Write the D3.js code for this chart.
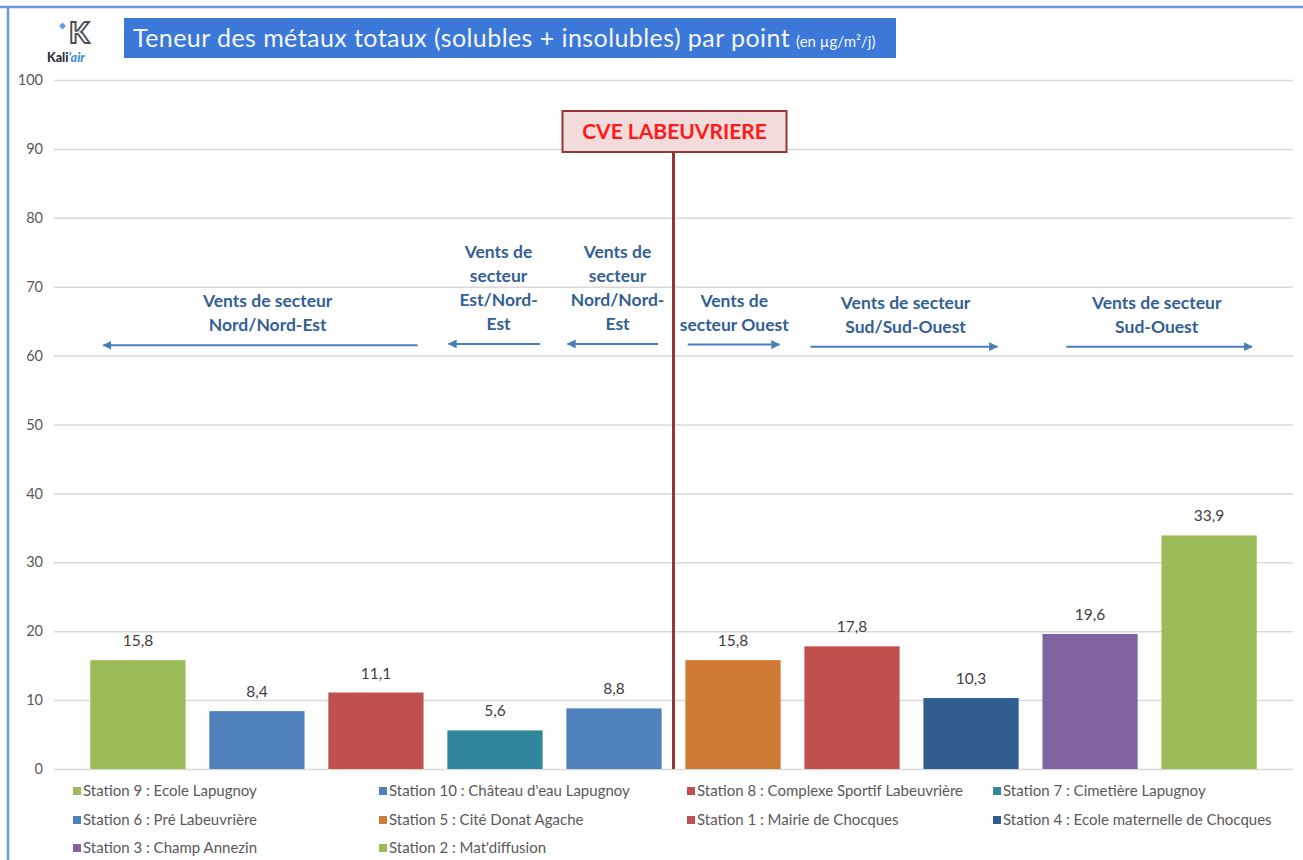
<!DOCTYPE html>
<html>
<head>
<meta charset="utf-8">
<script src="https://cdn.jsdelivr.net/npm/d3@7"></script>
<style>
  html, body { margin: 0; padding: 0; background: #fff; }
  svg { display: block; font-family: Lato, "Open Sans", sans-serif; }
</style>
</head>
<body>
<svg id="chart" width="1303" height="860"></svg>
<script>
// Stations, in plotting order (north-east side first, then south-west side)
const stations = [
  "Station 9 : Ecole Lapugnoy",
  "Station 10 : Château d'eau Lapugnoy",
  "Station 8 : Complexe Sportif Labeuvrière",
  "Station 7 : Cimetière Lapugnoy",
  "Station 6 : Pré Labeuvrière",
  "Station 5 : Cité Donat Agache",
  "Station 1 : Mairie de Chocques",
  "Station 4 : Ecole maternelle de Chocques",
  "Station 3 : Champ Annezin",
  "Station 2 : Mat'diffusion"
];
// Total metal content (soluble + insoluble), µg/m²/day
const values = [15.8, 8.4, 11.1, 5.6, 8.8, 15.8, 17.8, 10.3, 19.6, 33.9];
const colors = ["#9bbb59", "#4f81bd", "#c0504d", "#31859c", "#4f81bd",
                "#cf7a35", "#c0504d", "#2f5e8f", "#8064a2", "#9bbb59"];
const yTicks = [0, 10, 20, 30, 40, 50, 60, 70, 80, 90, 100];

// Wind-sector annotations: text lines, centre (in category units), arrow span
const windLabels = [
  ["Vents de secteur", "Nord/Nord-Est"],
  ["Vents de", "secteur", "Est/Nord-", "Est"],
  ["Vents de", "secteur", "Nord/Nord-", "Est"],
  ["Vents de", "secteur Ouest"],
  ["Vents de secteur", "Sud/Sud-Ouest"],
  ["Vents de secteur", "Sud-Ouest"]
];
const windCentre = [1.09, 3.03, 4.03, 5.01, 6.45, 8.56];
const windArrowFrom = [2.35, 3.38, 4.37, 4.62, 5.65, 7.80];
const windArrowTo = [-0.29, 2.61, 3.61, 5.39, 7.22, 9.36];
const windArrowLevel = [61.5, 61.7, 61.7, 61.6, 61.3, 61.3];

const svg = d3.select("#chart");
const W = 1303, H = 860;

// Frame: light blue rule along top and left
svg.append("rect").attr("width", W).attr("height", H).attr("fill", "#fff");
svg.append("line").attr("x1", 0).attr("x2", W).attr("y1", 7).attr("y2", 7)
  .attr("stroke", "#6a97e0").attr("stroke-width", 2.5);
svg.append("line").attr("x1", 8).attr("x2", 8).attr("y1", 6).attr("y2", H)
  .attr("stroke", "#6a97e0").attr("stroke-width", 2.5);

const plotL = 54, plotR = 1293, plotT = 80, plotB = 769;

const x = d3.scaleBand().domain(stations).range([plotL, plotR])
  .paddingInner(0.2).paddingOuter(0.305);
const y = d3.scaleLinear().domain([0, 100]).range([plotB, plotT]);
const step = x.step();
const catX = f => x(stations[0]) + x.bandwidth() / 2 + f * step;

// Y axis with horizontal gridlines
const yAxis = d3.axisLeft(y).tickValues(yTicks).tickSize(-(plotR - plotL)).tickPadding(11);
const gy = svg.append("g").attr("transform", `translate(${plotL},0)`).call(yAxis);
gy.select(".domain").remove();
gy.selectAll(".tick line").attr("stroke", "#d9d9d9").attr("stroke-width", 1.5);
gy.selectAll(".tick text").attr("fill", "#595959").attr("font-size", 14.5)
  .attr("font-family", "Lato, sans-serif");

// Bars
svg.append("g").selectAll("rect").data(stations).join("rect")
  .attr("x", d => x(d))
  .attr("y", (d, i) => y(values[i]))
  .attr("width", x.bandwidth())
  .attr("height", (d, i) => y(0) - y(values[i]))
  .attr("fill", (d, i) => colors[i]);

// Value labels (French decimal comma)
const fmt = v => d3.format(".1f")(v).replace(".", ",");
svg.append("g").selectAll("text").data(stations).join("text")
  .attr("x", d => x(d) + x.bandwidth() / 2)
  .attr("y", (d, i) => y(values[i]) - 14)
  .attr("text-anchor", "middle")
  .attr("fill", "#404040").attr("font-size", 15.5)
  .text((d, i) => fmt(values[i]));

// CVE marker: vertical rule between the two station groups
const splitX = x(stations[5]) - x.paddingInner() * step / 2;
svg.append("line").attr("x1", splitX).attr("x2", splitX)
  .attr("y1", 152).attr("y2", y(0))
  .attr("stroke", "#953735").attr("stroke-width", 3);
svg.append("rect").attr("x", splitX - 111).attr("y", 111).attr("width", 224).attr("height", 41)
  .attr("fill", "#f2dcdb").attr("stroke", "#953735").attr("stroke-width", 2);
svg.append("text").attr("x", splitX + 1).attr("y", 139).attr("text-anchor", "middle")
  .attr("fill", "#ff1a1a").attr("font-weight", 700).attr("font-size", 21)
  .text("CVE LABEUVRIERE");

// Wind annotations
const defs = svg.append("defs");
defs.append("marker").attr("id", "arrowhead").attr("viewBox", "0 0 10 10")
  .attr("refX", 9).attr("refY", 5).attr("markerWidth", 4.5).attr("markerHeight", 4.5)
  .attr("orient", "auto")
  .append("path").attr("d", "M0,0 L10,5 L0,10 Z").attr("fill", "#4a7ebb");

const wind = svg.append("g");
windLabels.forEach((lines, k) => {
  const ay = y(windArrowLevel[k]);
  wind.append("line")
    .attr("x1", catX(windArrowFrom[k])).attr("x2", catX(windArrowTo[k]))
    .attr("y1", ay).attr("y2", ay)
    .attr("stroke", "#4a7ebb").attr("stroke-width", 2)
    .attr("marker-end", "url(#arrowhead)");
  const n = lines.length;
  lines.forEach((t, j) => {
    wind.append("text")
      .attr("x", catX(windCentre[k]))
      .attr("y", ay - 14 - (n - 1 - j) * 24)
      .attr("text-anchor", "middle")
      .attr("fill", "#335f94").attr("font-weight", 700).attr("font-size", 17.5)
      .text(t);
  });
});

// Title banner
svg.append("rect").attr("x", 124).attr("y", 18).attr("width", 772).attr("height", 40)
  .attr("fill", "#3c78d8");
const title = svg.append("text").attr("x", 133).attr("y", 47)
  .attr("fill", "#f4f6fb").attr("font-family", "Lato, sans-serif");
const mainT = title.append("tspan").attr("font-size", 25)
  .text("Teneur des métaux totaux (solubles + insolubles) par point");
title.append("tspan").attr("font-size", 15).attr("dx", 6).text("(en µg/m²/j)");
// stretch the main title so it spans the banner as in the report layout
const mainLen = mainT.node().getComputedTextLength();
const target = 657;
if (mainLen < target) {
  const chars = mainT.text().length;
  mainT.attr("letter-spacing", ((target - mainLen) / chars).toFixed(2));
}

// Logo
const logo = svg.append("g");
logo.append("text").attr("x", 79).attr("y", 43).attr("text-anchor", "middle")
  .attr("font-size", 29).attr("font-weight", 900).attr("font-family", "Lato, sans-serif")
  .attr("fill", "#ffffff").attr("stroke", "#4a4a55").attr("stroke-width", 1.8)
  .text("K");
logo.append("path").attr("d", "M59,26 l3.5,-3.5 l3.5,3.5 l-3.5,3.5 Z").attr("fill", "#5aa0e6");
const lt = logo.append("text").attr("x", 47).attr("y", 62).attr("font-size", 12.5)
  .attr("font-weight", 900).attr("font-family", "Lato, sans-serif");
lt.append("tspan").attr("fill", "#2f2f3a").text("Kali");
lt.append("tspan").attr("fill", "#3a8ee0").attr("font-style", "italic").text("'air");

// Legend: four columns, filled row by row
const legX = [73, 379, 687, 993];
const legY = [791, 820, 848];
const leg = svg.append("g").selectAll("g").data(stations).join("g")
  .attr("transform", (d, i) => `translate(${legX[i % 4]},${legY[Math.floor(i / 4)]})`);
leg.append("rect").attr("x", 0).attr("y", -4).attr("width", 8).attr("height", 8)
  .attr("fill", (d, i) => colors[i]);
leg.append("text").attr("x", 10).attr("y", 5).attr("fill", "#595959")
  .attr("font-size", 15).text(d => d);
</script>
</body>
</html>
